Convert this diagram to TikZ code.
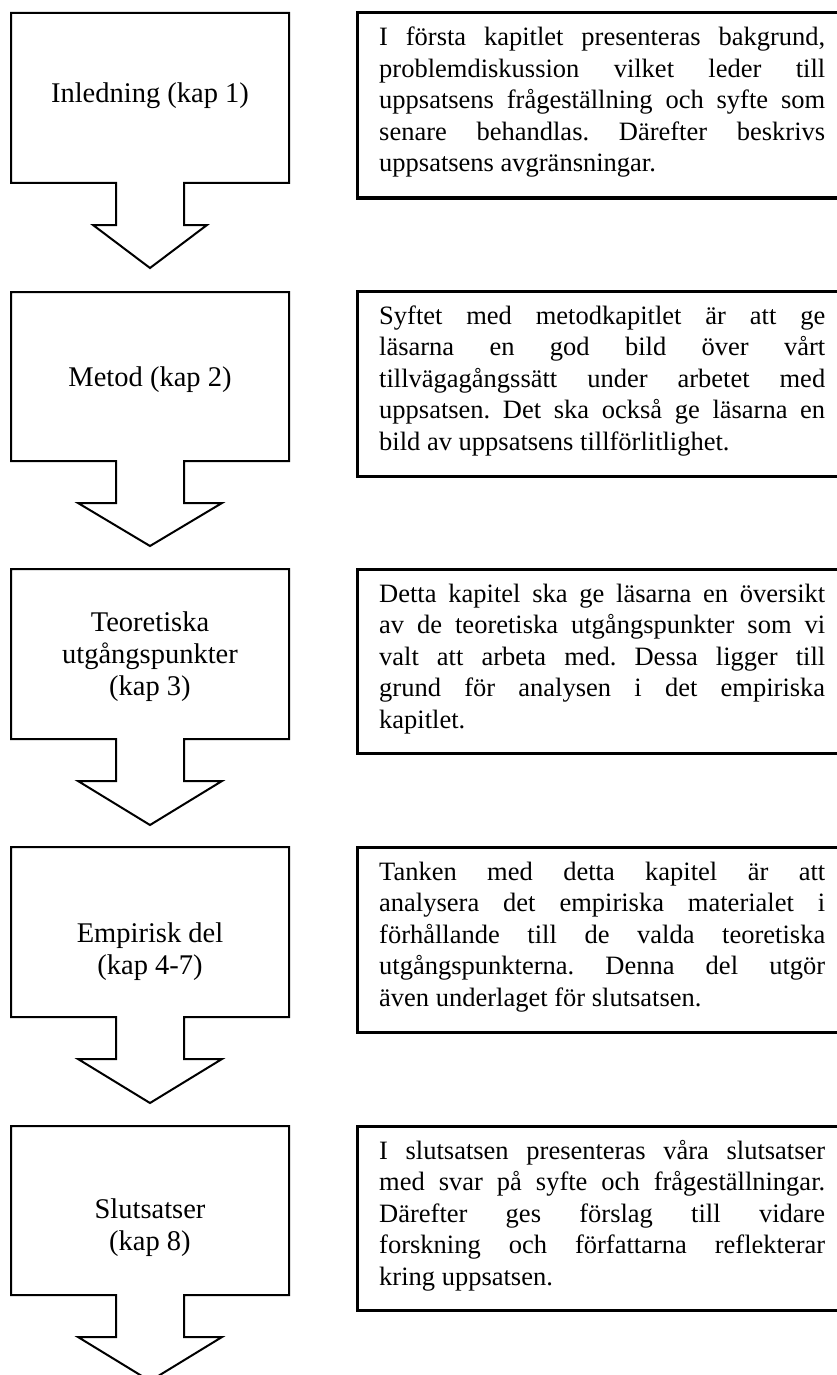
\documentclass[tikz,border=0pt]{standalone}
\usepackage{fontspec}
\setmainfont{Liberation Serif}[Ligatures={TeX,NoCommon}]

% callout box with a downward block arrow: #1 top, #2 bottom, #3 half width of head, #4 tip
\newcommand\downcallout[4]{%
  \draw[callout] (11,#1) -- (289,#1) -- (289,#2) -- (184,#2) -- (184,{#2+42})
    -- ({150+#3},{#2+42}) -- (150,#4) -- ({150-#3},{#2+42}) -- (116,{#2+42})
    -- (116,#2) -- (11,#2) -- cycle;}

\newcommand\desctext[1]{\parbox[t]{446pt}{\fontsize{26.5pt}{31.5pt}\selectfont
  \frenchspacing
  \hyphenpenalty=10000 \exhyphenpenalty=10000 \tolerance=10000 \hbadness=10000
  #1}}

\tikzset{
  callout/.style={draw=black, line width=2pt, fill=white, line join=miter},
  infobox/.style={draw=black, line width=3pt},
  steplabel/.style={align=center, inner sep=0pt,
    font=\fontsize{28.5pt}{32pt}\selectfont},
  desc/.style={anchor=base west, inner sep=0pt}
}

\begin{document}
\begin{tikzpicture}[x=1pt, y=-1pt]
\useasboundingbox (0,0) rectangle (837,1375);

% chapter callouts
\downcallout{13}{183}{57}{268}
\downcallout{292}{461}{72}{546}
\downcallout{569}{739}{72}{825}
\downcallout{847}{1017}{72}{1103}
\downcallout{1126}{1295}{72}{1381}

\node[steplabel] (l1) at (150,96) {Inledning (kap 1)};
\node[steplabel] (l2) at (150,380) {Metod (kap 2)};
\node[steplabel] (l3) at (150,657) {Teoretiska\\utgångspunkter\\(kap 3)};
\node[steplabel] (l4) at (150,952) {Empirisk del\\(kap 4-7)};
\node[steplabel] (l5) at (150,1228) {Slutsatser\\(kap 8)};

% description boxes
\draw[infobox] (357,13) rectangle (850,198);
\draw[infobox] (357,291) rectangle (850,476);
\draw[infobox] (357,569) rectangle (850,753);
\draw[infobox] (357,847) rectangle (850,1032);
\draw[infobox] (357,1126) rectangle (850,1310);

\node[desc] (d1) at (379,46) {\desctext{I första kapitlet presenteras bakgrund,
  \linebreak problemdiskussion vilket leder till
  \linebreak uppsatsens frågeställning och syfte som
  \linebreak senare behandlas. Därefter beskrivs
  \linebreak uppsatsens avgränsningar.}};

\node[desc] (d2) at (379,324) {\desctext{Syftet med metodkapitlet är att ge
  \linebreak läsarna en god bild över vårt
  \linebreak tillvägagångssätt under arbetet med
  \linebreak uppsatsen. Det ska också ge läsarna en
  \linebreak bild av uppsatsens tillförlitlighet.}};

\node[desc] (d3) at (379,602) {\desctext{Detta kapitel ska ge läsarna en översikt
  \linebreak av de teoretiska utgångspunkter som vi
  \linebreak valt att arbeta med. Dessa ligger till
  \linebreak grund för analysen i det empiriska
  \linebreak kapitlet.}};

\node[desc] (d4) at (379,880) {\desctext{Tanken med detta kapitel är att
  \linebreak analysera det empiriska materialet i
  \linebreak förhållande till de valda teoretiska
  \linebreak utgångspunkterna. Denna del utgör
  \linebreak även underlaget för slutsatsen.}};

\node[desc] (d5) at (379,1159) {\desctext{I slutsatsen presenteras våra slutsatser
  \linebreak med svar på syfte och frågeställningar.
  \linebreak Därefter ges förslag till vidare
  \linebreak forskning och författarna reflekterar
  \linebreak kring uppsatsen.}};
\end{tikzpicture}
\end{document}
